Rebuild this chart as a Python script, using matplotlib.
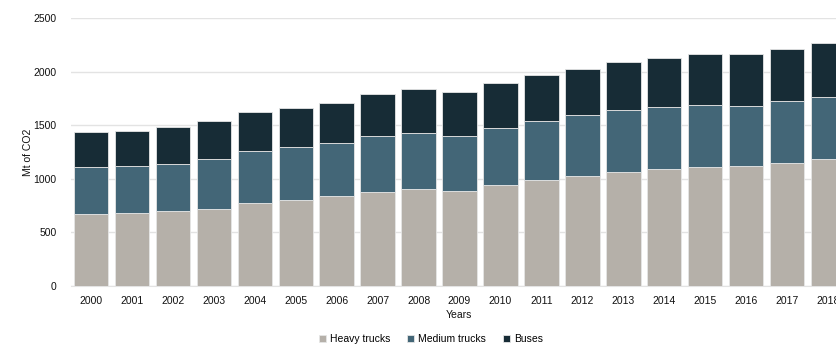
import matplotlib
matplotlib.use("Agg")
import numpy as np
import matplotlib.pyplot as plt

# ---------------------------------------------------------------------------
# Data (Mt of CO2)
# ---------------------------------------------------------------------------
years = [str(y) for y in range(2000, 2019)]
heavy_trucks = [674, 678, 697, 721, 771, 802, 837, 880, 902, 883,
                939, 986, 1023, 1066, 1088, 1113, 1116, 1144, 1182]
medium_trucks = [433, 439, 441, 464, 485, 492, 500, 522, 525, 519,
                 535, 553, 569, 579, 579, 575, 566, 579, 584]
buses = [327, 332, 345, 354, 364, 364, 370, 392, 408, 404,
         423, 432, 435, 447, 460, 473, 482, 491, 498]

series_names = ["Heavy trucks", "Medium trucks", "Buses"]
colors = ["#b5b0a9", "#436677", "#172c36"]

plt.rcParams["font.family"] = ["Liberation Sans", "DejaVu Sans"]

W, H = 836, 344
fig = plt.figure(figsize=(W / 100, H / 100), dpi=100)
fig.patch.set_facecolor("white")

# axes: left edge at ~70px, zero line at y=286px, 2500 at y=18px
left, right = 70.5, 836
bottom, top = H - 286, H - 18
ax = fig.add_axes([left / W, bottom / H, (right - left) / W, (top - bottom) / H])

x = np.arange(len(years))
base = np.zeros(len(years))
handles = []
for name, vals, col in zip(series_names, [heavy_trucks, medium_trucks, buses], colors):
    b = ax.bar(x, vals, width=0.84, bottom=base, color=col,
               edgecolor="#e6e6e6", linewidth=0.6, label=name, zorder=3)
    handles.append(b)
    base = base + np.array(vals)

# the original is cropped on the right, cutting the 2018 bar
ax.set_xlim(-0.5, (836 - 91) / 40.95)
ax.set_ylim(0, 2500)
ax.set_yticks(range(0, 2501, 500))
ax.set_xticks(x)
ax.set_xticklabels(years)

ax.yaxis.grid(True, color="#e3e3e3", linewidth=1.0, zorder=0)
ax.set_axisbelow(True)
for s in ["top", "right", "left"]:
    ax.spines[s].set_visible(False)
ax.spines["bottom"].set_color("#e3e3e3")
ax.tick_params(axis="both", length=0, labelsize=7.5, colors="#111111")
ax.tick_params(axis="x", pad=7)
ax.tick_params(axis="y", pad=10)

ax.set_ylabel("Mt of CO2", fontsize=7.5, color="#111111")
ax.yaxis.set_label_coords(-0.049, 0.5)
ax.set_xlabel("Years", fontsize=7.5, color="#111111")
ax.xaxis.set_label_coords((459 - left) / (right - left), -0.09)

fig.legend(handles, series_names, loc="center", ncol=3, frameon=False,
           bbox_to_anchor=(431 / W, 1 - 339 / H), fontsize=7.5,
           handlelength=0.7, handleheight=0.7, handletextpad=0.4,
           columnspacing=1.6)

fig.savefig("out.png", dpi=100, facecolor="white")
